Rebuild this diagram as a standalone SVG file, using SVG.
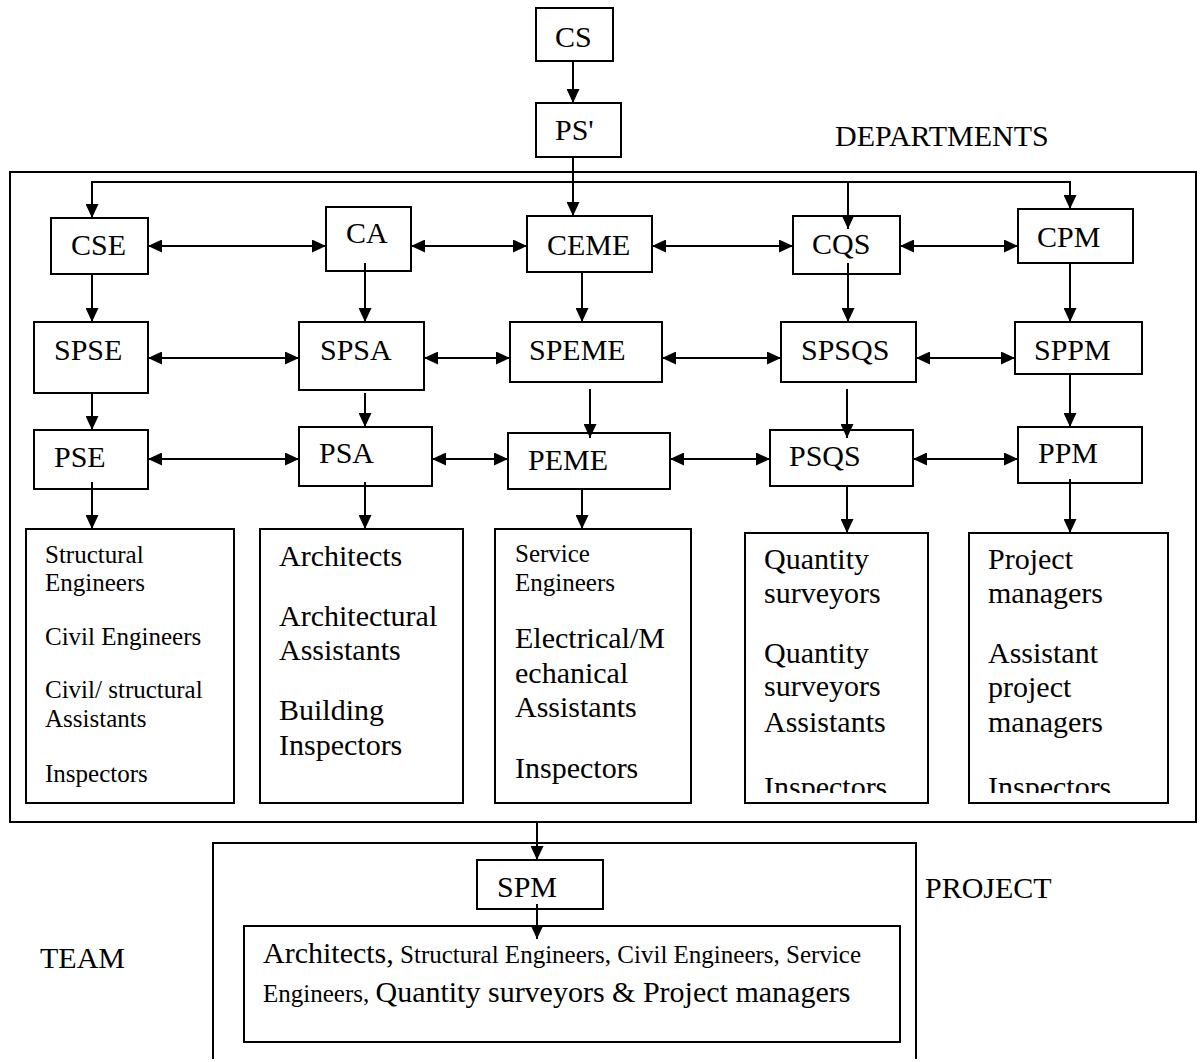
<svg xmlns="http://www.w3.org/2000/svg" width="1200" height="1062" viewBox="0 0 1200 1062">
  <style>
    .box { fill: none; stroke: #000; stroke-width: 2; }
    .frame { fill: none; stroke: #000; stroke-width: 2; }
    .lbl { font-family: "Liberation Serif", "Times New Roman", serif; font-size: 30px; fill: #000; }
    .sm { font-family: "Liberation Serif", "Times New Roman", serif; font-size: 25px; fill: #000; }
    .lg { font-family: "Liberation Serif", "Times New Roman", serif; font-size: 30px; fill: #000; }
    .conn { fill: none; stroke: #000; stroke-width: 2; }
    .one { marker-end: url(#head); }
    .two { marker-start: url(#head); marker-end: url(#head); }
  </style>
  <defs>
    <marker id="head" markerUnits="userSpaceOnUse" markerWidth="14" markerHeight="13" refX="14" refY="6.5" orient="auto-start-reverse">
      <path d="M0,0 L14,6.5 L0,13 Z" fill="#000"/>
    </marker>
    <clipPath id="cutQS"><rect x="745" y="533" width="185" height="260"/></clipPath>
    <clipPath id="cutPM"><rect x="969" y="533" width="200" height="260"/></clipPath>
  </defs>
  <rect width="1200" height="1062" fill="#fff"/>

  <!-- frames and section labels -->
  <g id="departments">
    <rect class="frame" x="10" y="172" width="1186" height="650"/>
    <text class="lbl" x="835" y="146">DEPARTMENTS</text>
  </g>
  <g id="project">
    <path class="frame" d="M213,1059 L213,843 L916,843 L916,1059"/>
    <text class="lbl" x="925" y="898">PROJECT</text>
    <text class="lbl" x="40" y="968">TEAM</text>
  </g>

  <!-- top of the hierarchy -->
  <g id="cs"><rect class="box" x="536" y="8" width="77" height="53"/><text class="lbl" x="555" y="47">CS</text></g>
  <g id="ps"><rect class="box" x="536" y="103" width="85" height="54"/><text class="lbl" x="555" y="140">PS'</text></g>

  <!-- chiefs -->
  <g id="cse"><rect class="box" x="51" y="218" width="97" height="56"/><text class="lbl" x="71" y="255">CSE</text></g>
  <g id="ca"><rect class="box" x="326" y="207" width="85" height="64"/><text class="lbl" x="346" y="243">CA</text></g>
  <g id="ceme"><rect class="box" x="527" y="216" width="125" height="56"/><text class="lbl" x="547" y="255">CEME</text></g>
  <g id="cqs"><rect class="box" x="793" y="216" width="107" height="58"/><text class="lbl" x="812" y="254">CQS</text></g>
  <g id="cpm"><rect class="box" x="1018" y="209" width="115" height="54"/><text class="lbl" x="1037" y="247">CPM</text></g>

  <!-- senior principals -->
  <g id="spse"><rect class="box" x="34" y="322" width="114" height="71"/><text class="lbl" x="54" y="360">SPSE</text></g>
  <g id="spsa"><rect class="box" x="299" y="322" width="125" height="68"/><text class="lbl" x="320" y="360">SPSA</text></g>
  <g id="speme"><rect class="box" x="510" y="322" width="152" height="60"/><text class="lbl" x="529" y="360">SPEME</text></g>
  <g id="spsqs"><rect class="box" x="781" y="322" width="135" height="60"/><text class="lbl" x="801" y="360">SPSQS</text></g>
  <g id="sppm"><rect class="box" x="1015" y="322" width="127" height="52"/><text class="lbl" x="1034" y="360">SPPM</text></g>

  <!-- principals -->
  <g id="pse"><rect class="box" x="34" y="430" width="114" height="59"/><text class="lbl" x="54" y="467">PSE</text></g>
  <g id="psa"><rect class="box" x="299" y="427" width="133" height="59"/><text class="lbl" x="319" y="463">PSA</text></g>
  <g id="peme"><rect class="box" x="508" y="433" width="162" height="56"/><text class="lbl" x="528" y="470">PEME</text></g>
  <g id="psqs"><rect class="box" x="770" y="430" width="143" height="56"/><text class="lbl" x="789" y="466">PSQS</text></g>
  <g id="ppm"><rect class="box" x="1018" y="427" width="124" height="56"/><text class="lbl" x="1038" y="463">PPM</text></g>

  <!-- staff lists -->
  <g id="staff-se">
    <rect class="box" x="26" y="529" width="208" height="274"/>
    <text class="sm" x="45" y="563">Structural</text>
    <text class="sm" x="45" y="591">Engineers</text>
    <text class="sm" x="45" y="645">Civil Engineers</text>
    <text class="sm" x="45" y="698">Civil/ structural</text>
    <text class="sm" x="45" y="727">Assistants</text>
    <text class="sm" x="45" y="782">Inspectors</text>
  </g>
  <g id="staff-a">
    <rect class="box" x="260" y="529" width="203" height="274"/>
    <text class="lg" x="279" y="566">Architects</text>
    <text class="lg" x="279" y="626">Architectural</text>
    <text class="lg" x="279" y="660">Assistants</text>
    <text class="lg" x="279" y="720">Building</text>
    <text class="lg" x="279" y="755">Inspectors</text>
  </g>
  <g id="staff-eme">
    <rect class="box" x="495" y="529" width="196" height="274"/>
    <text class="sm" x="515" y="562">Service</text>
    <text class="sm" x="515" y="591">Engineers</text>
    <text class="lg" x="515" y="648">Electrical/M</text>
    <text class="lg" x="515" y="683">echanical</text>
    <text class="lg" x="515" y="717">Assistants</text>
    <text class="lg" x="515" y="778">Inspectors</text>
  </g>
  <g id="staff-qs">
    <rect class="box" x="745" y="533" width="183" height="270"/>
    <text class="lg" x="764" y="569">Quantity</text>
    <text class="lg" x="764" y="603">surveyors</text>
    <text class="lg" x="764" y="663">Quantity</text>
    <text class="lg" x="764" y="696">surveyors</text>
    <text class="lg" x="764" y="732">Assistants</text>
    <text class="lg" x="764" y="797" clip-path="url(#cutQS)">Inspectors</text>
  </g>
  <g id="staff-pm">
    <rect class="box" x="969" y="533" width="199" height="270"/>
    <text class="lg" x="988" y="569">Project</text>
    <text class="lg" x="988" y="603">managers</text>
    <text class="lg" x="988" y="663">Assistant</text>
    <text class="lg" x="988" y="697">project</text>
    <text class="lg" x="988" y="732">managers</text>
    <text class="lg" x="988" y="797" clip-path="url(#cutPM)">Inspectors</text>
  </g>

  <!-- project team -->
  <g id="spm"><rect class="box" x="477" y="860" width="126" height="49"/><text class="lbl" x="497" y="897">SPM</text></g>
  <g id="team">
    <rect class="box" x="244" y="926" width="656" height="116"/>
    <text class="sm" x="263" y="963"><tspan class="lg">Architects,</tspan> Structural Engineers, Civil Engineers, Service</text>
    <text class="sm" x="263" y="1002">Engineers, <tspan class="lg">Quantity surveyors &amp; Project managers</tspan></text>
  </g>

  <!-- connectors -->
  <g id="connectors">
    <line class="conn one" x1="573" y1="61" x2="573" y2="103"/>
    <line class="conn one" x1="573" y1="157" x2="573" y2="216"/>
    <line class="conn" x1="92" y1="182" x2="1070" y2="182"/>
    <line class="conn one" x1="92" y1="181" x2="92" y2="218"/>
    <line class="conn one" x1="848" y1="182" x2="848" y2="229"/>
    <line class="conn one" x1="1070" y1="181" x2="1070" y2="209"/>

    <line class="conn two" x1="148" y1="246" x2="326" y2="246"/>
    <line class="conn two" x1="411" y1="246" x2="527" y2="246"/>
    <line class="conn two" x1="652" y1="246" x2="793" y2="246"/>
    <line class="conn two" x1="900" y1="246" x2="1018" y2="246"/>

    <line class="conn one" x1="92" y1="274" x2="92" y2="322"/>
    <line class="conn one" x1="365" y1="263" x2="365" y2="322"/>
    <line class="conn one" x1="582" y1="272" x2="582" y2="322"/>
    <line class="conn one" x1="848" y1="263" x2="848" y2="322"/>
    <line class="conn one" x1="1070" y1="263" x2="1070" y2="322"/>

    <line class="conn two" x1="148" y1="358" x2="299" y2="358"/>
    <line class="conn two" x1="424" y1="358" x2="510" y2="358"/>
    <line class="conn two" x1="662" y1="358" x2="781" y2="358"/>
    <line class="conn two" x1="916" y1="358" x2="1015" y2="358"/>

    <line class="conn one" x1="92" y1="393" x2="92" y2="430"/>
    <line class="conn one" x1="365" y1="393" x2="365" y2="427"/>
    <line class="conn one" x1="590" y1="389" x2="590" y2="438"/>
    <line class="conn one" x1="847" y1="389" x2="847" y2="438"/>
    <line class="conn one" x1="1070" y1="374" x2="1070" y2="427"/>

    <line class="conn two" x1="148" y1="459" x2="299" y2="459"/>
    <line class="conn two" x1="432" y1="459" x2="508" y2="459"/>
    <line class="conn two" x1="670" y1="459" x2="770" y2="459"/>
    <line class="conn two" x1="913" y1="459" x2="1018" y2="459"/>

    <line class="conn one" x1="92" y1="482" x2="92" y2="529"/>
    <line class="conn one" x1="365" y1="482" x2="365" y2="529"/>
    <line class="conn one" x1="582" y1="489" x2="582" y2="529"/>
    <line class="conn one" x1="847" y1="486" x2="847" y2="533"/>
    <line class="conn one" x1="1070" y1="479" x2="1070" y2="533"/>

    <line class="conn one" x1="537" y1="821" x2="537" y2="860"/>
    <line class="conn one" x1="537" y1="904" x2="537" y2="939"/>
  </g>
</svg>
